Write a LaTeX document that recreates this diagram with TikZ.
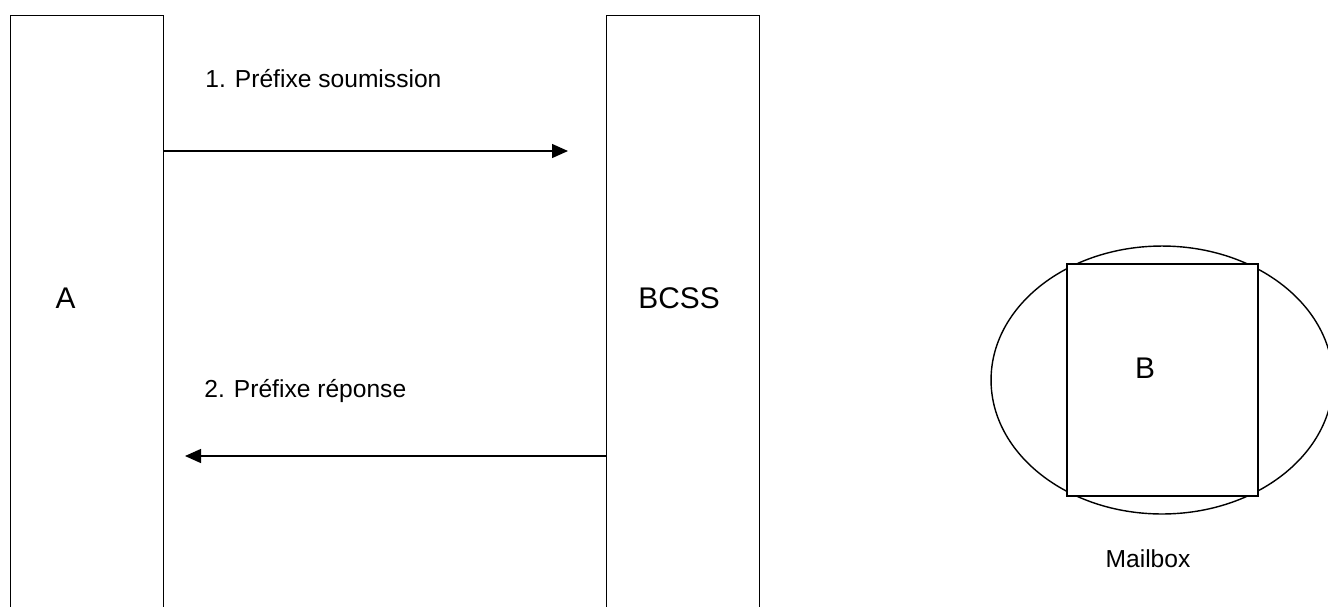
\documentclass[tikz,border=0pt]{standalone}
\usepackage{fontspec}
\setmainfont{Liberation Sans}
\usetikzlibrary{arrows.meta,shapes.geometric}

\begin{document}
\begin{tikzpicture}[x=0.02cm,y=-0.02cm,
	lane/.style={draw,line width=0.8pt,minimum width=3.06cm,minimum height=12.4cm,anchor=north west,inner sep=0},
	big/.style={font=\fontsize{17}{20}\selectfont,inner sep=0},
	small/.style={font=\fontsize{14}{16}\selectfont,inner sep=0},
	msg/.style={line width=0.8pt,-{Triangle[length=0.32cm,width=0.28cm]}}]
	\useasboundingbox (0,0) rectangle (1328,606);
	\clip (0,0) rectangle (1328,606);
	\node[lane] (A) at (10,15) {};
	\node[lane] (BCSS) at (606,15) {};
	\node[big,anchor=base] (txtA) at (65.5,308) {A};
	\node[big,anchor=base] (txtBCSS) at (679,308) {BCSS};
	\coordinate (tip1) at (568,151);
	\coordinate (tip2) at (185,456);
	\draw[msg] (A.east |- tip1) -- (tip1);
	\draw[msg] (BCSS.west |- tip2) -- (tip2);
	\node[small,anchor=base west] (msg1) at (205,87) {1. Préfixe soumission};
	\node[small,anchor=base west] (msg2) at (204,397) {2. Préfixe réponse};
	\node[draw,ellipse,line width=0.8pt,minimum width=6.84cm,minimum height=5.36cm,inner sep=0] (mailbox) at (1162,380) {};
	\node[draw,fill=white,line width=0.8pt,minimum width=3.82cm,minimum height=4.64cm,inner sep=0] (B) at (1162.5,380) {};
	\node[big,anchor=base] (txtB) at (1145,378) {B};
	\node[small,anchor=base] (txtMailbox) at (1148,567) {Mailbox};
\end{tikzpicture}
\end{document}
